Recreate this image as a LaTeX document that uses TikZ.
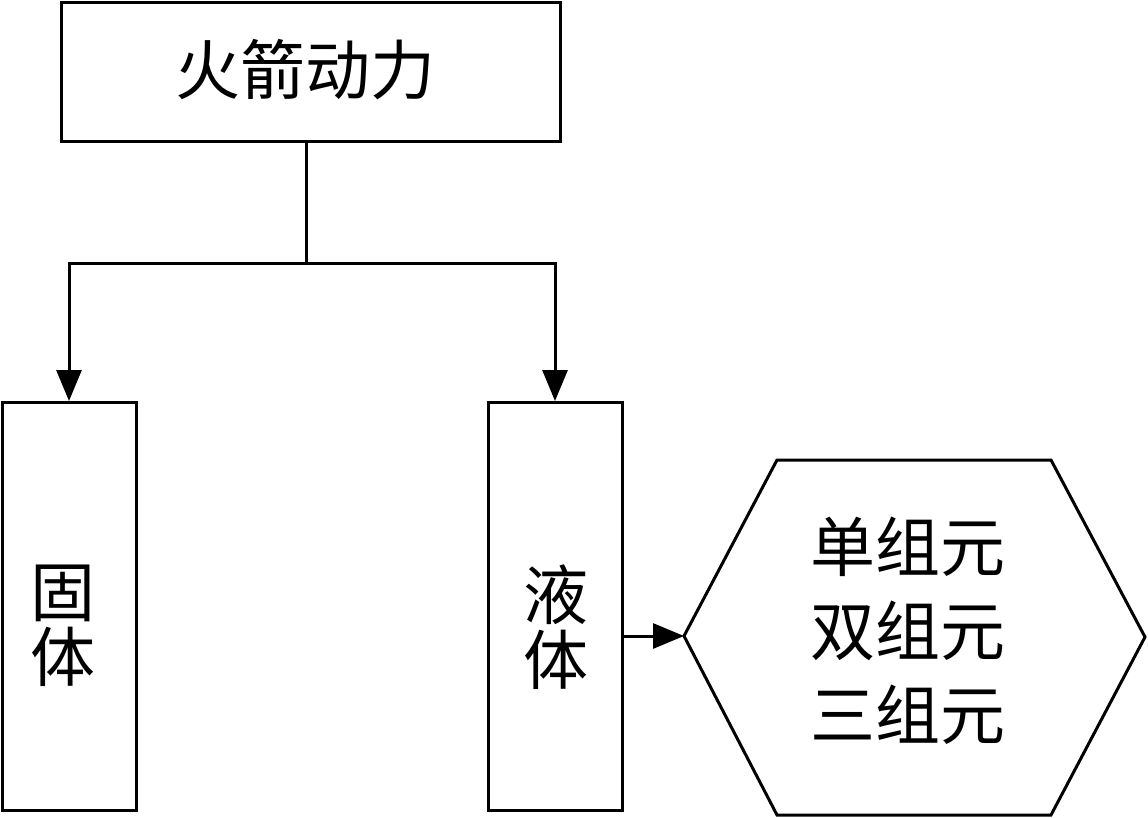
\documentclass[tikz,border=0pt]{standalone}
\usepackage{fontspec}
\newfontfamily\cjk{Noto Sans CJK SC}
\usetikzlibrary{arrows.meta,calc}
\begin{document}
\begin{tikzpicture}[x=1pt,y=-1pt,
  line width=3pt,
  box/.style={draw,line width=3pt,rectangle,inner sep=0pt},
  txt/.style={font=\cjk\fontsize{65}{65}\selectfont,align=center,inner sep=0pt},
  arr/.style={-{Triangle[length=31pt,width=25pt]}}]
\useasboundingbox (0,0) rectangle (1148,818);
% boxes
\node[box,minimum width=499pt,minimum height=139pt] (top) at (311,72) {};
\node[txt] (toptxt) at (305,70) {火箭动力};
\node[box,minimum width=134pt,minimum height=408pt] (solid) at (69,606.5) {};
\node[txt] (solidtxt) at (63,626) {固\\体};
\node[box,minimum width=134pt,minimum height=408pt] (liquid) at (555,606.5) {};
\node[txt] (liquidtxt) at (556,627) {液\\体};
% hexagon
\coordinate (hw) at (684,636);
\coordinate (htl) at (777,460);
\coordinate (htr) at (1051,460);
\coordinate (he) at (1145,637);
\coordinate (hbr) at (1051,815);
\coordinate (hbl) at (777,815);
\draw[line join=miter] (hw) -- (htl) -- (htr) -- (he) -- (hbr) -- (hbl) -- cycle;
\node[txt,font=\cjk\fontsize{65}{84}\selectfont] (hextxt) at (908,631) {单组元\\双组元\\三组元};
% connectors
\coordinate (split) at (306,264);
\draw (top.south -| split) -- (split);
\draw[arr] (split) -| (solid.north);
\draw[arr] (split) -| (liquid.north);
\draw[arr] (liquid.east |- hw) -- (hw);
\end{tikzpicture}
\end{document}
